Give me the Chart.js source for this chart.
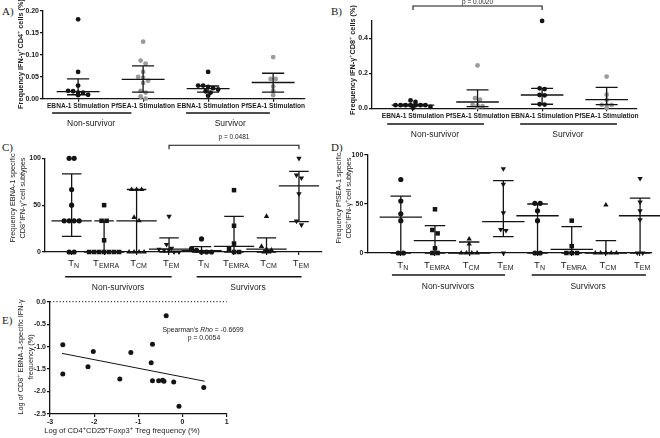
<!DOCTYPE html>
<html>
<head>
<meta charset="utf-8">
<script src="https://cdn.jsdelivr.net/npm/chart.js@4.4.0/dist/chart.umd.min.js"></script>
<style>
body{margin:0;background:#fff;width:660px;height:438px;position:relative;overflow:hidden}
canvas{position:absolute}
.tag{position:absolute;font:11px "Liberation Serif",serif;color:#222}
</style>
</head>
<body>
<div class="tag" style="left:2px;top:5px">A)</div>
<div class="tag" style="left:331px;top:5px">B)</div>
<div class="tag" style="left:2px;top:141px">C)</div>
<div class="tag" style="left:331px;top:141px">D)</div>
<div class="tag" style="left:2px;top:314px">E)</div>
<canvas id="cA" width="330" height="140" style="left:0;top:0"></canvas>
<canvas id="cB" width="330" height="140" style="left:330px;top:0"></canvas>
<canvas id="cC" width="330" height="165" style="left:0;top:130px"></canvas>
<canvas id="cD" width="330" height="165" style="left:330px;top:130px"></canvas>
<canvas id="cE" width="330" height="143" style="left:0;top:295px"></canvas>
<script>
// ---- data ----
const stimLabels = ["EBNA-1 Stimulation", "PfSEA-1 Stimulation", "EBNA-1 Stimulation", "PfSEA-1 Stimulation"];
const groupLabelsAB = ["Non-survivor", "Survivor"];
const groupLabelsCD = ["Non-survivors", "Survivors"];
const subsetLabels = ["N", "EMRA", "CM", "EM", "N", "EMRA", "CM", "EM"];

// A) IFN-g+ CD4+ (%)
const cd4NsEbna = [0.181, 0.061, 0.030, 0.018, 0.017, 0.014, 0.014, 0.009, 0.008];
const cd4NsPfsea = [0.130, 0.087, 0.080, 0.061, 0.050, 0.048, 0.041, 0.036, 0.018, 0.014, 0.005, 0.000];
const cd4SEbna = [0.061, 0.030, 0.030, 0.027, 0.024, 0.021, 0.017, 0.014, 0.007];
const cd4SPfsea = [0.095, 0.045, 0.045, 0.028, 0.018, 0.008];
const cd4Median = [0.016, 0.044, 0.023, 0.037];
const cd4Q1 = [0.009, 0.015, 0.015, 0.015];
const cd4Q3 = [0.045, 0.075, 0.029, 0.058];
const cd4Ticks = [0, 0.05, 0.10, 0.15, 0.20];

// B) IFN-g+ CD8+ (%)
const cd8NsEbna = [0.045, 0.036, 0.018, 0.018, 0.018, 0.018, 0.018, 0.018, 0.018, 0.008, 0.003];
const cd8NsPfsea = [0.245, 0.058, 0.050, 0.020, 0.015, 0.012, 0.008];
const cd8SEbna = [0.499, 0.114, 0.110, 0.076, 0.074, 0.023, 0.021];
const cd8SPfsea = [0.181, 0.078, 0.048, 0.020, 0.019, 0.019, 0.002];
const cd8Median = [0.018, 0.036, 0.076, 0.050];
const cd8Q1 = [0.014, 0.010, 0.023, 0.021];
const cd8Q3 = [0.022, 0.105, 0.114, 0.120];
const cd8Ticks = [0, 0.2, 0.4];

// C) EBNA-1 specific subsets, 4 non-survivor then 4 survivor groups
const ebnaSubsets = [
  [100, 100, 66.7, 50, 33.3, 33.3, 33.3, 33.3, 0, 0],
  [50, 33.3, 33.3, 12.5, 0, 0, 0, 0, 0, 0, 0],
  [66.7, 66.7, 66.7, 37, 33.3, 0, 0, 0, 0],
  [38, 8, 4, 3, 2, 2, 0, 0],
  [14, 3.6, 1.8, 0, 0, 0],
  [66, 28, 9, 3, 0, 0],
  [38, 6, 2.8, 2, 0, 0],
  [100, 82, 79, 62, 33, 29]
];
const ebnaMedian = [33.3, 0, 33.3, 3, 1.5, 6, 3, 70.5];
const ebnaQ1 = [16.7, 0, 0, 0, 0, 0, 0, 32.4];
const ebnaQ3 = [83.3, 33.3, 66.7, 15, 5.7, 38, 15, 86];

// D) PfSEA-1 specific subsets
const pfseaSubsets = [
  [75, 53, 40, 33, 0, 0],
  [44.6, 23.5, 20, 4.8, 0, 0],
  [14.3, 9.2, 0, 0, 0, 0],
  [86, 70, 41, 24, 23, 0],
  [50.7, 50.7, 43, 33, 0, 0],
  [33, 7, 0, 0, 0],
  [49, 0, 0, 0, 0, 0],
  [76, 52, 43, 34, 0, 0]
];
const pfseaMedian = [36.7, 12.6, 0, 32, 38, 3.7, 0, 38];
const pfseaQ1 = [0, 0, 0, 16.7, 0, 0, 0, 0];
const pfseaQ3 = [58, 28, 11.2, 73.8, 50, 27, 12.6, 56];
const subsetTicks = [0, 50, 100];

// E) correlation
const tregLog = [-2.71, -2.71, -2.02, -2.14, -1.42, -1.17, -0.71, -0.68, -0.37, -0.68, -0.54, -0.45, -0.42, -0.20, -0.08, 0.48];
const ebnaLog = [-0.96, -1.61, -1.11, -1.45, -1.72, -1.13, -1.36, -0.95, -0.31, -1.76, -1.76, -1.75, -1.77, -1.79, -2.33, -1.91];
const fitX = [-2.73, 0.50];
const fitY = [-1.15, -1.77];
const zeroX = [-3, 1];
const eXTicks = [-3, -2, -1, 0, 1];
const eYTicks = [-2.5, -2, -1.5, -1, -0.5, 0];

// ---- helpers ----
const BLACK = '#141414', GREY = '#9b9b9b', TXT = '#222';
const SANS = '"Liberation Sans", Arial, sans-serif';

// spread points of similar value side by side (dot-plot layout)
function spread(vals, center, gap, tol) {
  const s = [...vals].sort((a, b) => b - a), out = [];
  let i = 0;
  while (i < s.length) {
    let j = i;
    while (j + 1 < s.length && s[i] - s[j + 1] <= tol) j++;
    const n = j - i + 1;
    for (let k = 0; k < n; k++) out.push({ x: center + (k - (n - 1) / 2) * gap, y: s[i + k] });
    i = j + 1;
  }
  return out;
}

function dots(data, color, style, r, rot) {
  return { data, pointStyle: style, pointRadius: r, pointBackgroundColor: color,
    pointBorderColor: color, pointBorderWidth: 0, pointRotation: rot || 0, clip: false, showLine: false };
}

function drawRich(ctx, segs, x, y, rot) {
  ctx.save();
  ctx.translate(x, y);
  if (rot) ctx.rotate(rot);
  let w = 0;
  segs.forEach(s => { ctx.font = s.f; w += ctx.measureText(s.t).width; });
  let cx = -w / 2;
  ctx.textBaseline = 'middle';
  ctx.textAlign = 'left';
  ctx.fillStyle = TXT;
  segs.forEach(s => { ctx.font = s.f; ctx.fillText(s.t, cx, s.dy || 0); cx += ctx.measureText(s.t).width; });
  ctx.restore();
}

const extrasPlugin = {
  id: 'extras',
  afterDatasetsDraw(chart, args, o) {
    const ctx = chart.ctx, xs = chart.scales.x, ys = chart.scales.y;
    ctx.save();
    ctx.strokeStyle = BLACK;
    ctx.lineWidth = 1.3;
    if (o.med) o.med.forEach((m, i) => {
      const cx = xs.getPixelForValue(i);
      const hw = xs.getPixelForValue(i + o.medHalf) - cx;
      const hc = xs.getPixelForValue(i + o.capHalf) - cx;
      const y1 = ys.getPixelForValue(o.q1[i]), y3 = ys.getPixelForValue(o.q3[i]), ym = ys.getPixelForValue(m);
      ctx.beginPath();
      ctx.moveTo(cx - hw, ym); ctx.lineTo(cx + hw, ym);
      ctx.moveTo(cx, y1); ctx.lineTo(cx, y3);
      ctx.moveTo(cx - hc, y1); ctx.lineTo(cx + hc, y1);
      ctx.moveTo(cx - hc, y3); ctx.lineTo(cx + hc, y3);
      ctx.stroke();
    });
    (o.groups || []).forEach(g => {
      ctx.lineWidth = 1.6;
      ctx.beginPath();
      ctx.moveTo(xs.getPixelForValue(g.from), o.lineY);
      ctx.lineTo(xs.getPixelForValue(g.to), o.lineY);
      ctx.stroke();
      drawRich(ctx, [{ t: g.label, f: o.groupFont }], xs.getPixelForValue(g.at), o.labelY);
    });
    if (o.bracket) {
      const b = o.bracket, x0 = xs.getPixelForValue(b.from), x1 = xs.getPixelForValue(b.to);
      ctx.lineWidth = 1.1;
      ctx.beginPath();
      ctx.moveTo(x0, b.y + 4); ctx.lineTo(x0, b.y); ctx.lineTo(x1, b.y); ctx.lineTo(x1, b.y + 4);
      ctx.stroke();
      drawRich(ctx, [{ t: b.text, f: '6.5px ' + SANS }], (x0 + x1) / 2, b.ty);
    }
    (o.sub || []).forEach((s, i) => {
      drawRich(ctx, [{ t: 'T', f: '9.5px ' + SANS }, { t: s, f: '7px ' + SANS, dy: 3 }], xs.getPixelForValue(i) + 2, o.subY);
    });
    (o.texts || []).forEach(t => drawRich(ctx, t.segs, t.x, t.y, t.rot));
    ctx.restore();
  }
};

function axis(min, max, ticks, fmt, show, size) {
  return {
    type: 'linear', min, max,
    afterBuildTicks: s => { s.ticks = ticks.map(v => ({ value: v })); },
    grid: { drawOnChartArea: false, tickLength: 3, color: BLACK, lineWidth: 1.2 },
    border: { color: BLACK, width: 1.3 },
    ticks: { display: show, padding: 1, color: TXT, autoSkip: false, maxRotation: 0,
      font: { family: SANS, size: size || 7.5, weight: 'bold' }, callback: fmt }
  };
}

function makeChart(id, W, H, area, datasets, xScale, yScale, extras) {
  xScale.afterFit = s => { s.height = H - area.bottom; };
  yScale.afterFit = s => { s.width = area.left; };
  return new Chart(document.getElementById(id), {
    type: 'scatter',
    data: { datasets },
    options: {
      responsive: false, animation: false, events: [],
      layout: { padding: { left: 0, top: area.top, right: W - area.right, bottom: 0 } },
      plugins: { legend: { display: false }, tooltip: { enabled: false }, extras },
      scales: { x: xScale, y: yScale }
    },
    plugins: [extrasPlugin]
  });
}

const sup = (t, size) => ({ t, f: (size || 5.5) + 'px ' + SANS, dy: -3 });
const tx = (t, f) => ({ t, f });

// ---- A ----
const gA = 5 / 65, tA = 4 / 440;
makeChart('cA', 330, 140, { left: 43, top: 11, right: 305, bottom: 98.7 }, [
  dots(spread(cd4NsEbna, 0, gA, tA), BLACK, 'circle', 2.4),
  dots(spread(cd4NsPfsea, 1, gA, tA), GREY, 'circle', 2.4),
  dots(spread(cd4SEbna, 2, gA, tA), BLACK, 'circle', 2.4),
  dots(spread(cd4SPfsea, 3, gA, tA), GREY, 'circle', 2.4)
],
  axis(-0.54, 3.49, [0, 1, 2, 3], (v, i) => stimLabels[i], true, 6.6),
  axis(0, 0.2, cd4Ticks, v => v.toFixed(2), true, 7),
  { med: cd4Median, q1: cd4Q1, q3: cd4Q3, medHalf: 0.33, capHalf: 0.17,
    lineY: 113, labelY: 124, groupFont: '8.5px ' + SANS,
    groups: [{ from: -0.4, to: 0.82, at: 0.2, label: groupLabelsAB[0] }, { from: 1.66, to: 2.95, at: 2.34, label: groupLabelsAB[1] }],
    texts: [{ x: 21, y: 54, rot: -Math.PI / 2, segs: [
      tx('Frequency IFN-γ', 'bold 7.3px ' + SANS), sup('+'), tx('CD4', 'bold 7.3px ' + SANS), sup('+'), tx(' cells (%)', 'bold 7.3px ' + SANS)] }]
  });

// ---- B ----
const gB = 5 / 64.6, tB = 2 / 175;
makeChart('cB', 330, 140, { left: 42, top: 20.7, right: 307, bottom: 108.3 }, [
  dots(spread(cd8NsEbna, 0, gB, tB), BLACK, 'circle', 2.4),
  dots(spread(cd8NsPfsea, 1, gB, tB), GREY, 'circle', 2.4),
  dots(spread(cd8SEbna, 2, gB, 4 / 175), BLACK, 'circle', 2.4),
  dots(spread(cd8SPfsea, 3, gB, 3 / 175), GREY, 'circle', 2.4)
],
  axis(-0.635, 3.47, [0, 1, 2, 3], (v, i) => stimLabels[i], true, 6.6),
  axis(0, 0.5, cd8Ticks, v => v.toFixed(1), true, 7),
  { med: cd8Median, q1: cd8Q1, q3: cd8Q3, medHalf: 0.33, capHalf: 0.17,
    lineY: 124, labelY: 134.5, groupFont: '8.5px ' + SANS,
    groups: [{ from: -0.4, to: 1.1, at: 0.34, label: groupLabelsAB[0] }, { from: 1.66, to: 3.16, at: 2.4, label: groupLabelsAB[1] }],
    bracket: { from: 0, to: 2, y: 6, ty: 2.5, text: 'p = 0.0020' },
    texts: [{ x: 23, y: 60, rot: -Math.PI / 2, segs: [
      tx('Frequency IFN-γ', 'bold 7.3px ' + SANS), sup('+'), tx('CD8', 'bold 7.3px ' + SANS), sup('+'), tx(' cells (%)', 'bold 7.3px ' + SANS)] }]
  });

// ---- C and D ----
const styles = ['circle', 'rect', 'triangle', 'triangle'];
const rots = [0, 0, 0, 180];
const radii = [2.6, 3.2, 3.1, 3.1];
function subsetSets(groups, gap, tol) {
  return groups.map((vals, i) => dots(spread(vals, i, gap, tol), BLACK, styles[i % 4], radii[i % 4], rots[i % 4]));
}
function yTitle(first, x0) {
  return [
    { x: x0, y: 68, rot: -Math.PI / 2, segs: [tx(first, '7.3px ' + SANS)] },
    { x: x0 + 10, y: 68, rot: -Math.PI / 2, segs: [tx('CD8', '7.3px ' + SANS), sup('+'), tx('IFN-γ', '7.3px ' + SANS), sup('+'), tx('cell subtypes', '7.3px ' + SANS)] }
  ];
}

makeChart('cC', 330, 165, { left: 45, top: 28.3, right: 321.7, bottom: 122 },
  subsetSets(ebnaSubsets, 5 / 32.47, 4.5),
  axis(-0.82, 7.7, [0, 1, 2, 3, 4, 5, 6, 7], () => '', false),
  axis(0, 100, subsetTicks, v => String(v), true, 7),
  { med: ebnaMedian, q1: ebnaQ1, q3: ebnaQ3, medHalf: 0.62, capHalf: 0.3,
    lineY: 146.7, labelY: 157.5, groupFont: '8.5px ' + SANS, subY: 133,
    sub: subsetLabels,
    groups: [{ from: -0.2, to: 3.08, at: 1.43, label: groupLabelsCD[0] }, { from: 3.85, to: 7.08, at: 5.43, label: groupLabelsCD[1] }],
    bracket: { from: 3, to: 7, y: 15.3, ty: 7, text: 'p = 0.0481' },
    texts: yTitle('Frequency EBNA-1 specific', 13)
  });

makeChart('cD', 330, 165, { left: 37.3, top: 25, right: 321.7, bottom: 123 },
  subsetSets(pfseaSubsets, 5.3 / 34.2, 4.5),
  axis(-0.98, 7.34, [0, 1, 2, 3, 4, 5, 6, 7], () => '', false),
  axis(0, 100, subsetTicks, v => String(v), true, 7),
  { med: pfseaMedian, q1: pfseaQ1, q3: pfseaQ3, medHalf: 0.62, capHalf: 0.3,
    lineY: 145, labelY: 156.7, groupFont: '8.5px ' + SANS, subY: 135,
    sub: subsetLabels,
    groups: [{ from: -0.26, to: 3.05, at: 1.38, label: groupLabelsCD[0] }, { from: 3.83, to: 7.17, at: 5.48, label: groupLabelsCD[1] }],
    texts: yTitle('Frequency PfSEA-1 specific', 9)
  });

// ---- E ----
makeChart('cE', 330, 143, { left: 50, top: 6.7, right: 226.7, bottom: 119 }, [
  { data: zeroX.map(x => ({ x, y: 0 })), showLine: true, borderColor: BLACK, borderWidth: 1, borderDash: [1.2, 2], pointRadius: 0, clip: false },
  { data: fitX.map((x, i) => ({ x, y: fitY[i] })), showLine: true, borderColor: BLACK, borderWidth: 1, pointRadius: 0 },
  dots(tregLog.map((x, i) => ({ x, y: ebnaLog[i] })), BLACK, 'circle', 2.5)
],
  axis(-3, 1, eXTicks, v => String(v), true, 7),
  axis(-2.5, 0, eYTicks, v => v.toFixed(1), true, 7),
  { texts: [
    { x: 21, y: 62, rot: -Math.PI / 2, segs: [tx('Log of CD8', '7.3px ' + SANS), sup('+'), tx(' EBNA-1-specific IFN-γ', '7.3px ' + SANS)] },
    { x: 31, y: 62, rot: -Math.PI / 2, segs: [tx('frequency (%)', '7.3px ' + SANS)] },
    { x: 122, y: 136, segs: [tx('Log of CD4', '7.6px ' + SANS), sup('+'), tx('CD25', '7.6px ' + SANS), sup('+'), tx('Foxp3', '7.6px ' + SANS), sup('+'), tx(' Treg frequency (%)', '7.6px ' + SANS)] },
    { x: 203, y: 35, segs: [tx("Spearman's ", '6.8px ' + SANS), tx('Rho', 'italic 6.8px ' + SANS), tx(' = -0.6699', '6.8px ' + SANS)] },
    { x: 204, y: 43, segs: [tx('p = 0.0054', '6.8px ' + SANS)] }
  ] });
</script>
</body>
</html>
